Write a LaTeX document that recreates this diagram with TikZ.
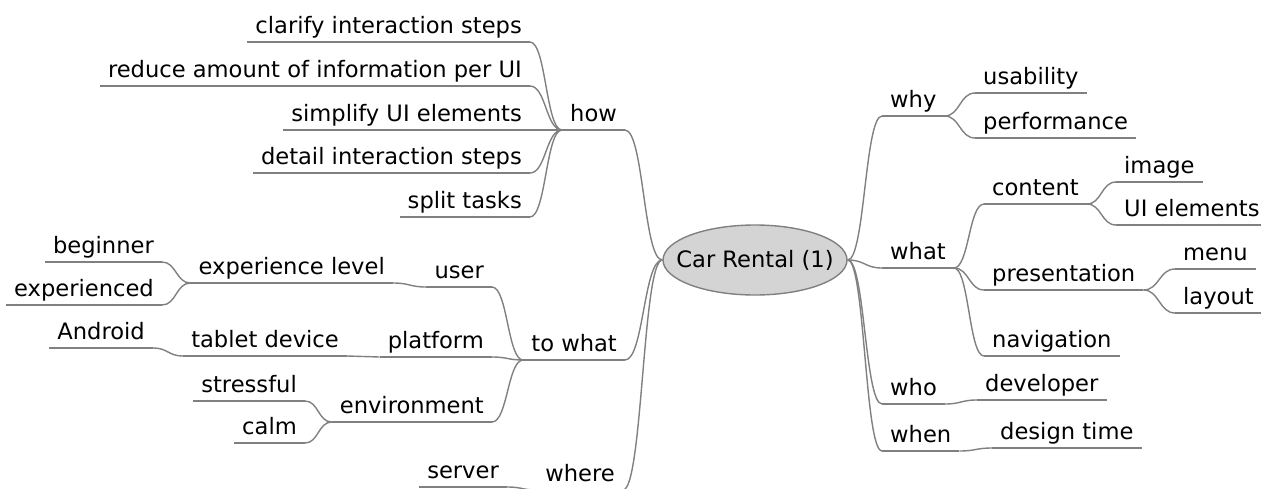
\documentclass[tikz,border=0pt]{standalone}
\usepackage{fontspec}
\setmainfont{DejaVu Sans}
\usetikzlibrary{shapes,calc}

\tikzset{
  wire/.style={draw=black!50, line width=1.4pt},
  topic/.style={font=\fontsize{22.6}{26}\selectfont, inner xsep=8pt, inner ysep=2.5pt,
    text height=17pt, text depth=5.5pt},
  lefttopic/.style={topic, anchor=south east},
  righttopic/.style={topic, anchor=south west},
  link/.style={to path={let \p1=(\tikztostart), \p2=(\tikztotarget) in
    .. controls ({(\x1+\x2)/2},\y1) and ({(\x1+\x2)/2},\y2) .. (\tikztotarget)}},
}

\begin{document}
\begin{tikzpicture}[x=1pt,y=-1pt]
  \useasboundingbox (0,0) rectangle (1261,488);
  % central topic
  \node[ellipse, draw=black!50, fill=black!17, line width=1.4pt, minimum width=184pt,
    minimum height=70pt, inner sep=0pt, font=\fontsize{22.6}{26}\selectfont] (root) at (755,260)
    {\makebox[0pt]{Car Rental (1)}};
  % how
  \node[lefttopic] (how) at (625,130) {how};
  \node[lefttopic] (clarify) at (530,42) {clarify interaction steps};
  \node[lefttopic] (reduce) at (530,86) {reduce amount of information per UI};
  \node[lefttopic] (simplify) at (530,130) {simplify UI elements};
  \node[lefttopic] (detail) at (530,173) {detail interaction steps};
  \node[lefttopic] (split) at (530,217) {split tasks};
  % to what
  \node[lefttopic] (towhat) at (625,360) {to what};
  \node[lefttopic] (user) at (492,287) {user};
  \node[lefttopic] (explevel) at (393,283) {experience level};
  \node[lefttopic] (beginner) at (162,262) {beginner};
  \node[lefttopic] (experienced) at (162,305) {experienced};
  \node[lefttopic] (platform) at (492,357) {platform};
  \node[lefttopic] (tablet) at (347,356) {tablet device};
  \node[lefttopic] (android) at (153,348) {Android};
  \node[lefttopic] (environment) at (492,422) {environment};
  \node[lefttopic] (stressful) at (305,401) {stressful};
  \node[lefttopic] (calm) at (305,443) {calm};
  % where
  \node[lefttopic] (where) at (623,490) {where};
  \node[lefttopic] (server) at (507,487) {server};
  % why
  \node[righttopic] (why) at (882,116) {why};
  \node[righttopic] (usability) at (975,93) {usability};
  \node[righttopic] (performance) at (975,138) {performance};
  % what
  \node[righttopic] (what) at (882,268) {what};
  \node[righttopic] (content) at (984,204) {content};
  \node[righttopic] (image) at (1116,182) {image};
  \node[righttopic] (uielements) at (1116,225) {UI elements};
  \node[righttopic] (presentation) at (984,290) {presentation};
  \node[righttopic] (menu) at (1175,269) {menu};
  \node[righttopic] (layout) at (1175,313) {layout};
  \node[righttopic] (navigation) at (984,356) {navigation};
  % who, when
  \node[righttopic] (who) at (882,404) {who};
  \node[righttopic] (developer) at (977,400) {developer};
  \node[righttopic] (when) at (882,451) {when};
  \node[righttopic] (designtime) at (992,448) {design time};
  % underlines
  \foreach \n in {how,clarify,reduce,simplify,detail,split,towhat,user,explevel,beginner,
    experienced,platform,tablet,android,environment,stressful,calm,where,server,why,usability,
    performance,what,content,image,uielements,presentation,menu,layout,navigation,who,developer,
    when,designtime}
    \draw[wire] (\n.south west) -- (\n.south east);
  % left branches
  \foreach \a/\b in {root.west/how, how.south west/clarify, how.south west/reduce,
    how.south west/simplify, how.south west/detail, how.south west/split,
    root.west/towhat, towhat.south west/user, user.south west/explevel,
    explevel.south west/beginner, explevel.south west/experienced,
    towhat.south west/platform, platform.south west/tablet, tablet.south west/android,
    towhat.south west/environment, environment.south west/stressful,
    environment.south west/calm, root.west/where, where.south west/server}
    \draw[wire] (\a) to[link] (\b.south east);
  % right branches
  \foreach \a/\b in {root.east/why, why.south east/usability, why.south east/performance,
    root.east/what, what.south east/content, content.south east/image,
    content.south east/uielements, what.south east/presentation,
    presentation.south east/menu, presentation.south east/layout,
    what.south east/navigation, root.east/who, who.south east/developer,
    root.east/when, when.south east/designtime}
    \draw[wire] (\a) to[link] (\b.south west);
\end{tikzpicture}
\end{document}
